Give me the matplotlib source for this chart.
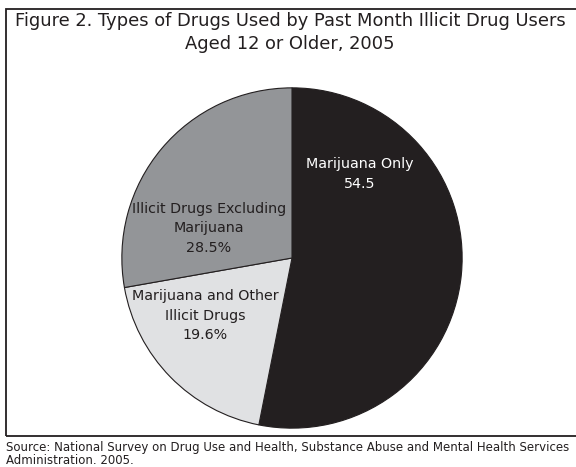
import matplotlib
matplotlib.use('Agg')
import matplotlib.pyplot as plt
from matplotlib.patches import Rectangle

title = 'Figure 2. Types of Drugs Used by Past Month Illicit Drug Users\nAged 12 or Older, 2005'
source = ('Source: National Survey on Drug Use and Health, Substance Abuse and Mental Health Services\n'
          'Administration. 2005.')

labels = ['Marijuana Only\n54.5',
          'Marijuana and Other\nIllicit Drugs\n19.6%',
          'Illicit Drugs Excluding\nMarijuana\n28.5%']
values = [54.5, 19.6, 28.5]
colors = ['#231f20', '#e0e1e3', '#939598']
text_colors = ['white', '#231f20', '#231f20']
# label centres, in pie radius units
label_pos = [(0.40, 0.495), (-0.51, -0.34), (-0.49, 0.175)]

W, H = 576, 467
fig = plt.figure(figsize=(W / 100, H / 100), dpi=100)

# frame round the figure (right side runs off the image)
fig.patches.append(Rectangle((6 / W, 1 - 436 / H), 2.0, (436 - 9) / H,
                             transform=fig.transFigure, fill=False,
                             edgecolor='#231f20', linewidth=1.3))

cx, cy, r = 292, 258, 171
ax = fig.add_axes([(cx - r) / W, (H - cy - r) / H, 2 * r / W, 2 * r / H])
ax.pie(values, colors=colors, startangle=90, counterclock=False,
       wedgeprops=dict(edgecolor='#231f20', linewidth=0.8))
ax.set_xlim(-1.005, 1.005)
ax.set_ylim(-1.005, 1.005)
ax.set_aspect('equal')
ax.axis('off')

for lab, (x, y), c in zip(labels, label_pos, text_colors):
    ax.text(x, y, lab, ha='center', va='center', color=c, fontsize=10.3,
            linespacing=1.5)

fig.text(0.5 + 2 / W, 1 - 32.5 / H, title, ha='center', va='center', fontsize=12.9,
         color='#231f20', linespacing=1.35)
fig.text(6 / W, 1 - 453.5 / H, source, ha='left', va='center', fontsize=8.5,
         color='#231f20', linespacing=1.0)

fig.savefig('out.png', dpi=100)
